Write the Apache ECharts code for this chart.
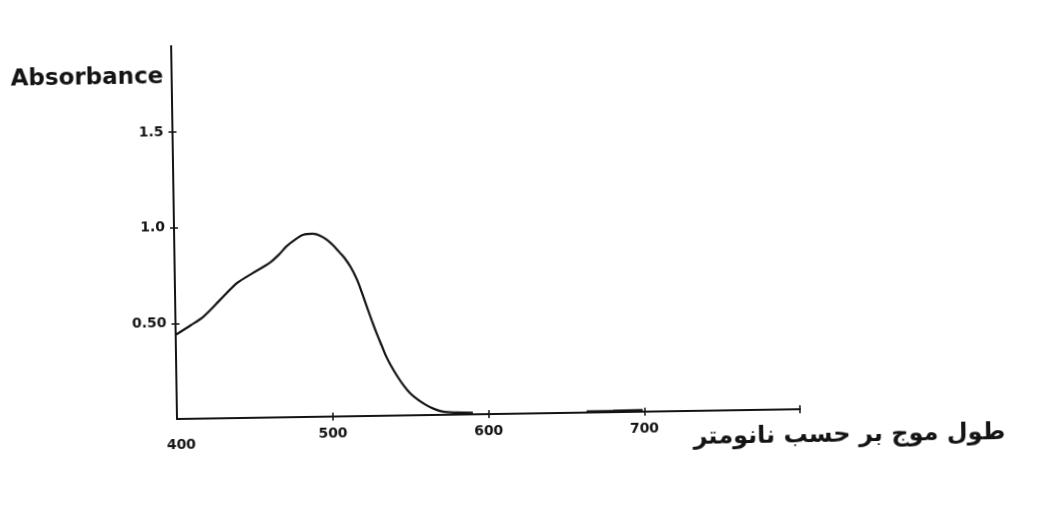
<!DOCTYPE html>
<html>
<head>
<meta charset="utf-8">
<script src="https://cdn.jsdelivr.net/npm/echarts@6/dist/echarts.min.js"></script>
<style>
  html, body { margin: 0; padding: 0; background: #ffffff; }
  #chart {
    width: 1045px; height: 522px;
    /* the printed sheet sits slightly tilted */
    transform: rotate(-0.9deg);
    transform-origin: 177px 419px;
  }
</style>
</head>
<body>
<div id="chart"></div>
<script>
// Absorption spectrum: wavelength (nm) vs absorbance
const wavelengths = [400, 410, 418, 429, 440, 450, 461, 467, 472, 478, 483, 489, 494, 498, 502, 506, 509, 513, 517, 520, 523, 526, 529, 532, 535, 538, 542, 546, 550, 555, 560, 565, 571, 580, 590];
const absorbance  = [0.44, 0.49, 0.533, 0.62, 0.706, 0.756, 0.808, 0.85, 0.893, 0.93, 0.953, 0.957, 0.945, 0.925, 0.895, 0.858, 0.83, 0.78, 0.713, 0.645, 0.572, 0.5, 0.432, 0.37, 0.309, 0.26, 0.204, 0.155, 0.115, 0.08, 0.053, 0.032, 0.016, 0.011, 0.009];
// short trace lying on the baseline further out
const tailWavelengths = [663, 680, 699];
const tailAbsorbance  = [0.005, 0.006, 0.008];

const xTicks = [400, 500, 600, 700];
const xTickLabels = ['400', '500', '600', '700'];
const yTicks = [0.5, 1.0, 1.5];
const yTickLabels = ['0.50', '1.0', '1.5'];

const yAxisTitle = 'Absorbance';
const xAxisTitle = 'طول موج بر حسب نانومتر';

const ink = '#141414';
const labelFont = { color: ink, fontFamily: 'DejaVu Sans', fontWeight: 'bold', fontSize: 14 };

const chart = echarts.init(document.getElementById('chart'), null, { renderer: 'canvas' });

function xAxisDef(inside, showLabels) {
  return {
    type: 'value', min: 400, max: 800, interval: 100,
    gridIndex: 0, position: 'bottom',
    axisLine: { show: !inside, lineStyle: { color: ink, width: 2 } },
    splitLine: { show: false },
    axisTick: { show: true, inside: inside, length: 4, lineStyle: { color: ink, width: 1.5 },
                customValues: [500, 600, 700, 800] },
    axisLabel: Object.assign({ show: showLabels, margin: 10, customValues: xTicks,
      formatter: v => {
        const i = xTicks.indexOf(v);
        if (i < 0) return '';
        // the first label sits a little lower, under the corner
        return i === 0 ? '{first|' + xTickLabels[i] + '}' : xTickLabels[i];
      },
      rich: { first: { fontFamily: 'DejaVu Sans', fontWeight: 'bold', fontSize: 14, color: ink, padding: [9, 0, 0, 8] } }
    }, labelFont)
  };
}
function yAxisDef(inside, showLabels) {
  return {
    type: 'value', min: 0, max: 1.95, interval: 0.5,
    gridIndex: 0, position: 'left',
    axisLine: { show: !inside, lineStyle: { color: ink, width: 2 } },
    splitLine: { show: false },
    axisTick: { show: true, inside: inside, length: 4, lineStyle: { color: ink, width: 1.5 },
                customValues: yTicks },
    axisLabel: Object.assign({ show: showLabels, margin: 9, customValues: yTicks,
      formatter: v => { const i = yTicks.findIndex(t => Math.abs(t - v) < 1e-6); return i >= 0 ? yTickLabels[i] : ''; } }, labelFont)
  };
}

chart.setOption({
  backgroundColor: '#ffffff',
  animation: false,
  grid: { left: 177, right: 245, top: 46, bottom: 103, containLabel: false },
  xAxis: [xAxisDef(false, true), xAxisDef(true, false)],
  yAxis: [yAxisDef(false, true), yAxisDef(true, false)],
  graphic: [
    { type: 'text', left: 16, top: 66, silent: true,
      style: { text: yAxisTitle, fill: ink, font: 'bold 23px "DejaVu Sans"' } },
    { type: 'text', right: 40, top: 434, silent: true,
      style: { text: xAxisTitle, fill: ink, font: 'bold 24px "DejaVu Sans"' } }
  ],
  series: [
    {
      type: 'line', xAxisIndex: 0, yAxisIndex: 0,
      data: wavelengths.map((w, i) => [w, absorbance[i]]),
      smooth: 0.3, showSymbol: false,
      lineStyle: { color: ink, width: 2.2 }
    },
    {
      type: 'line', xAxisIndex: 0, yAxisIndex: 0,
      data: tailWavelengths.map((w, i) => [w, tailAbsorbance[i]]),
      showSymbol: false,
      lineStyle: { color: ink, width: 2.5 }
    }
  ]
});
</script>
</body>
</html>
